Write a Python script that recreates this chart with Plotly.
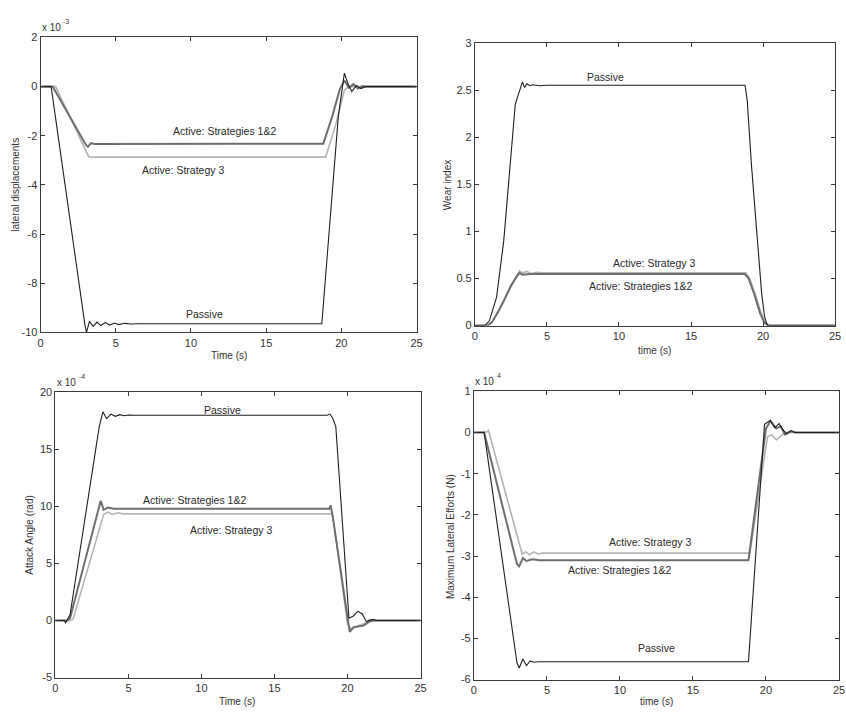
import plotly.graph_objects as go

W, H = 846, 715

# ---------------- Data ----------------
# Panel 1: lateral displacements (x 1e-3)
lat_pas_t = [0, 0.7, 2.95, 3.05, 3.25, 3.5, 3.75, 4.0, 4.3, 4.6, 4.9, 5.2, 5.6, 6.0, 6.5, 18.7, 19.2, 19.8, 20.2, 20.45, 20.7, 21.0, 21.3, 21.6, 25]
lat_pas_v = [0, 0, -9.7, -10.0, -9.55, -9.75, -9.58, -9.72, -9.6, -9.7, -9.62, -9.68, -9.63, -9.66, -9.65, -9.65, -5.8, -1.2, 0.55, 0.1, -0.2, 0.05, -0.08, 0.0, 0]
lat_s12_t = [0, 0.8, 3.0, 3.15, 3.35, 3.6, 18.8, 19.4, 19.9, 20.2, 20.5, 20.8, 21.1, 21.4, 21.7, 25]
lat_s12_v = [0, 0, -2.35, -2.45, -2.3, -2.33, -2.32, -1.2, -0.1, 0.25, -0.05, 0.1, -0.08, 0.02, 0, 0]
lat_s3_t = [0, 1.0, 3.2, 3.5, 18.95, 19.6, 20.2, 20.5, 25]
lat_s3_v = [0, 0, -2.85, -2.87, -2.87, -1.6, -0.15, 0.0, 0]

# Panel 2: wear index
wear_pas_t = [0, 0.7, 1.0, 1.5, 2.0, 2.5, 2.8, 3.0, 3.15, 3.3, 3.45, 3.6, 3.8, 4.0, 4.5, 5.0, 18.75, 18.9, 19.2, 19.6, 19.9, 20.1, 20.3, 25]
wear_pas_v = [0, 0, 0.05, 0.3, 0.9, 1.8, 2.35, 2.45, 2.52, 2.59, 2.53, 2.57, 2.55, 2.56, 2.55, 2.555, 2.555, 2.4, 1.7, 0.9, 0.35, 0.1, 0.0, 0]
wear_s12_t = [0, 0.9, 1.2, 1.6, 2.0, 2.5, 2.9, 3.1, 3.3, 3.6, 4.0, 4.5, 18.75, 19.0, 19.4, 19.8, 20.1, 20.4, 25]
wear_s12_v = [0, 0, 0.04, 0.14, 0.26, 0.42, 0.52, 0.56, 0.54, 0.545, 0.55, 0.548, 0.548, 0.5, 0.33, 0.13, 0.03, 0.0, 0]
wear_s3_t = [0, 0.9, 1.2, 1.6, 2.0, 2.5, 2.9, 3.1, 3.3, 3.6, 3.9, 4.3, 4.7, 18.8, 19.05, 19.45, 19.85, 20.15, 20.45, 25]
wear_s3_v = [0, 0, 0.04, 0.15, 0.27, 0.43, 0.54, 0.58, 0.56, 0.575, 0.55, 0.565, 0.56, 0.56, 0.51, 0.34, 0.14, 0.03, 0.0, 0]

# Panel 3: attack angle (x 1e-4)
att_pas_t = [0, 0.6, 0.7, 1.0, 3.0, 3.25, 3.5, 3.8, 4.1, 4.4, 4.7, 5.0, 5.4, 18.6, 18.8, 19.0, 19.2, 20.1, 20.4, 20.7, 21.0, 21.3, 21.7, 22.0, 25]
att_pas_v = [0, 0, -0.2, 0.5, 17.0, 18.3, 17.7, 18.1, 17.9, 18.05, 17.95, 18.02, 18.0, 18.0, 18.1, 17.7, 17.0, 0.2, 0.4, 0.8, 0.6, -0.1, 0.1, 0.0, 0]
att_s12_t = [0, 0.8, 1.0, 3.0, 3.1, 3.3, 3.6, 4.0, 18.75, 18.85, 19.0, 20.15, 20.4, 20.8, 21.1, 21.5, 21.8, 25]
att_s12_v = [0, 0, 0.2, 10.0, 10.5, 9.7, 9.9, 9.8, 9.8, 10.1, 9.0, -1.0, -0.6, -0.5, -0.45, -0.1, 0.0, 0]
att_s3_t = [0, 1.0, 1.2, 3.3, 3.6, 3.9, 4.3, 4.6, 18.85, 19.0, 20.0, 20.3, 20.6, 21.1, 21.5, 21.8, 25]
att_s3_v = [0, 0, 0.1, 9.3, 9.5, 9.3, 9.45, 9.35, 9.35, 9.2, -0.3, -0.8, -0.5, -0.3, 0.1, 0.0, 0]

# Panel 4: maximum lateral efforts (x 1e4)
eff_pas_t = [0, 0.7, 2.95, 3.1, 3.35, 3.6, 3.85, 4.1, 4.4, 18.8, 19.9, 20.3, 20.6, 20.9, 21.1, 21.4, 21.7, 22.0, 25]
eff_pas_v = [0, 0, -5.6, -5.72, -5.5, -5.66, -5.55, -5.58, -5.57, -5.57, 0.2, 0.3, 0.12, 0.22, 0.1, -0.03, 0.05, 0.0, 0]
eff_s12_t = [0, 0.7, 2.95, 3.1, 3.35, 3.6, 4.0, 4.5, 18.8, 20.0, 20.3, 20.7, 21.0, 21.3, 21.7, 22.0, 25]
eff_s12_v = [0, 0, -3.2, -3.25, -3.05, -3.12, -3.08, -3.1, -3.1, 0.1, 0.28, 0.1, 0.15, -0.05, 0.03, 0.0, 0]
eff_s3_t = [0, 0.9, 1.0, 3.3, 3.55, 3.8, 4.1, 4.4, 4.7, 18.9, 20.1, 20.4, 20.7, 21.0, 21.3, 25]
eff_s3_v = [0, 0.02, 0.05, -2.95, -2.9, -2.97, -2.9, -2.95, -2.93, -2.93, -0.1, -0.05, -0.18, -0.1, 0.0, 0]

x_ticks = [0, 5, 10, 15, 20, 25]
lat_yticks = [2, 0, -2, -4, -6, -8, -10]
wear_yticks = [0, 0.5, 1, 1.5, 2, 2.5, 3]
att_yticks = [-5, 0, 5, 10, 15, 20]
eff_yticks = [1, 0, -1, -2, -3, -4, -5, -6]

# ---------------- Styling ----------------
C_PAS = "#1e1e1e"
C_S12 = "#6e6e6e"
C_S3 = "#b4b4b4"
FONT = "Liberation Sans, Arial, sans-serif"
TXT = "#333333"

fig = go.Figure()

panels = [
    ("", lat_pas_t, lat_pas_v, lat_s12_t, lat_s12_v, lat_s3_t, lat_s3_v),
    ("2", wear_pas_t, wear_pas_v, wear_s12_t, wear_s12_v, wear_s3_t, wear_s3_v),
    ("3", att_pas_t, att_pas_v, att_s12_t, att_s12_v, att_s3_t, att_s3_v),
    ("4", eff_pas_t, eff_pas_v, eff_s12_t, eff_s12_v, eff_s3_t, eff_s3_v),
]
for k, pt, pv, s12t, s12v, s3t, s3v in panels:
    xa, ya = "x" + k, "y" + k
    fig.add_trace(go.Scatter(x=s3t, y=s3v, mode="lines", line=dict(color=C_S3, width=1.6), xaxis=xa, yaxis=ya, showlegend=False))
    fig.add_trace(go.Scatter(x=s12t, y=s12v, mode="lines", line=dict(color=C_S12, width=2.0), xaxis=xa, yaxis=ya, showlegend=False))
    fig.add_trace(go.Scatter(x=pt, y=pv, mode="lines", line=dict(color=C_PAS, width=1.1), xaxis=xa, yaxis=ya, showlegend=False))


def fmt(v):
    return "%g" % v


def px_dom(a, b, total):
    return [a / total, b / total]


def ydom(top, bottom):
    return [1 - bottom / H, 1 - top / H]


axis_common = dict(showline=True, linecolor="#3a3a3a", linewidth=1, mirror="allticks",
                   ticks="inside", ticklen=4, tickcolor="#3a3a3a", showgrid=False, zeroline=False,
                   tickfont=dict(family=FONT, size=11, color=TXT))

layouts = {
    "": dict(xd=px_dom(38, 418, W), yd=ydom(32, 332), yr=[-10, 2], yt=lat_yticks),
    "2": dict(xd=px_dom(477, 841, W), yd=ydom(38, 325), yr=[0, 3], yt=wear_yticks),
    "3": dict(xd=px_dom(53, 422, W), yd=ydom(393, 683), yr=[-5, 20], yt=att_yticks),
    "4": dict(xd=px_dom(476, 845, W), yd=ydom(392, 685), yr=[-6, 1], yt=eff_yticks),
}
lay = {}
for k, d in layouts.items():
    lay["xaxis" + k] = dict(axis_common, domain=d["xd"], range=[0, 25], anchor="y" + k,
                            tickvals=x_ticks, ticktext=[fmt(v) for v in x_ticks])
    lay["yaxis" + k] = dict(axis_common, domain=d["yd"], range=d["yr"], anchor="x" + k,
                            tickvals=d["yt"], ticktext=[fmt(v) for v in d["yt"]])

fig.update_layout(**lay)

ann = []


def label(k, x, y, text, size=10.5):
    ann.append(dict(xref="x" + k, yref="y" + k, x=x, y=y, text=text, showarrow=False,
                    font=dict(family=FONT, size=size, color="#2a2a2a"), xanchor="center", yanchor="middle"))


# in-plot labels
label("", 12.2, -1.8, "Active: Strategies 1&2")
label("", 9.5, -3.4, "Active: Strategy 3")
label("", 10.9, -9.24, "Passive")
label("2", 9.07, 2.64, "Passive")
label("2", 12.4, 0.67, "Active: Strategy 3")
label("2", 11.5, 0.42, "Active: Strategies 1&2")
label("3", 11.45, 18.5, "Passive")
label("3", 9.55, 10.6, "Active: Strategies 1&2")
label("3", 12.0, 7.9, "Active: Strategy 3")
label("4", 12.05, -2.65, "Active: Strategy 3")
label("4", 10.0, -3.35, "Active: Strategies 1&2")
label("4", 12.5, -5.24, "Passive")


def paper(xpx, ypx, text, size=10, angle=0, xanchor="center"):
    ann.append(dict(xref="paper", yref="paper", x=xpx / W, y=1 - ypx / H, text=text, showarrow=False,
                    textangle=angle, xanchor=xanchor, yanchor="middle",
                    font=dict(family=FONT, size=size, color=TXT)))


# x axis titles
paper(228, 355, "Time (s)")
paper(659, 350, "time (s)")
paper(237, 707, "Time (s)")
paper(661, 707, "time (s)")
# y axis titles
paper(13, 182, "lateral displacements", angle=-90)
paper(450, 182, "Wear index", angle=-90)
paper(27, 538, "Attack Angle (rad)", angle=-90)
paper(453, 540, "Maximum Lateral Efforts (N)", angle=-90)
# exponent labels (base + small raised exponent)
paper(37, 22, "x 10", size=10, xanchor="left")
paper(59, 16, "-3", size=7, xanchor="left")
paper(53, 383, "x 10", size=10, xanchor="left")
paper(75, 377, "-4", size=7, xanchor="left")
paper(475, 382, "x 10", size=10, xanchor="left")
paper(497, 376, "4", size=7, xanchor="left")

fig.update_layout(annotations=ann, width=W, height=H, margin=dict(l=0, r=0, t=0, b=0),
                  paper_bgcolor="white", plot_bgcolor="white", showlegend=False)

fig.write_html("out.html")
